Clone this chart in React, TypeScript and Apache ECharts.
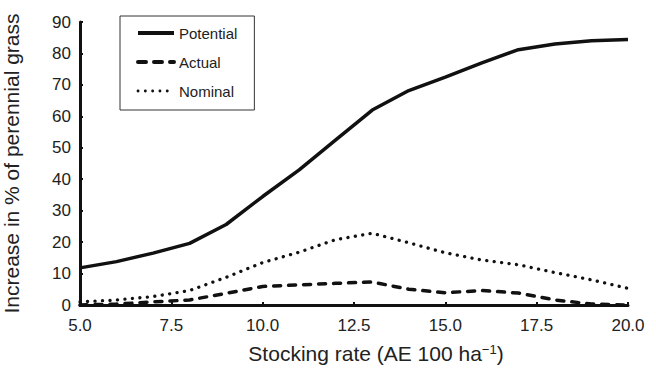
import React, { useEffect, useRef } from "react";
import * as echarts from "echarts";

const stockingRate = [5, 6, 7, 8, 9, 10, 11, 12, 13, 14, 15, 16, 17, 18, 19, 20];
const potential = [11.8, 13.8, 16.5, 19.6, 25.6, 34.5, 43, 52.5, 62, 68.2, 72.5, 77, 81.2, 83, 84, 84.4];
const actual = [0, 0.3, 1, 1.6, 3.7, 5.9, 6.4, 6.9, 7.3, 5, 3.9, 4.6, 3.8, 1.6, 0.3, 0];
const nominal = [1, 1.6, 2.7, 4.6, 8.8, 13.5, 16.8, 20.8, 22.8, 19.8, 16.6, 14.3, 12.8, 10.3, 8, 5.3];
const seriesNames = ["Potential", "Actual", "Nominal"];

const FONT = "'Liberation Sans', Arial, Helvetica, sans-serif";

export default function App() {
  const ref = useRef<HTMLDivElement>(null);
  useEffect(() => {
    if (!ref.current) return;
    const chart = echarts.init(ref.current, undefined, { renderer: "svg" });
    const zip = (ys: number[]) => stockingRate.map((x, i) => [x, ys[i]]);
    const legendLines: Record<string, any> = {
      Potential: { width: 4, type: "solid", color: "#111" },
      Actual: { width: 4, type: [8, 8], cap: "round", color: "#111" },
      Nominal: { width: 2.8, type: [0.1, 7.2], cap: "round", color: "#111" },
    };
    chart.setOption({
      animation: false,
      backgroundColor: "#fff",
      textStyle: { fontFamily: FONT },
      grid: { left: 80, right: 28, top: 22, bottom: 63, containLabel: false, outerBoundsMode: "none" },
      legend: {
        data: seriesNames.map((n) => ({ name: n, lineStyle: legendLines[n] })),
        orient: "vertical",
        left: 120,
        top: 16,
        padding: [8, 17, 10, 16],
        itemWidth: 36,
        itemHeight: 14,
        itemGap: 11,
        borderColor: "#333",
        borderWidth: 1,
        borderRadius: 0,
        itemStyle: { opacity: 0 },
        textStyle: { fontSize: 15, color: "#222", fontFamily: FONT, lineHeight: 18 },
      },
      xAxis: {
        type: "value",
        min: 5,
        max: 20,
        interval: 2.5,
        name: "Stocking rate (AE 100 ha{sup|\u22121})",
        nameLocation: "middle",
        nameGap: 38,
        nameTextStyle: {
          fontSize: 21,
          color: "#222",
          fontFamily: FONT,
          padding: [0, 0, 0, 44],
          rich: { sup: { fontSize: 13, verticalAlign: "top", padding: [0, 0, 8, 0], color: "#222", fontFamily: FONT } },
        },
        axisLine: { show: true, onZero: false, lineStyle: { color: "#111", width: 3 } },
        axisTick: { show: true, inside: true, length: 3, lineStyle: { color: "#111", width: 2 } },
        axisLabel: { fontSize: 17, color: "#222", margin: 12, formatter: (v: number) => v.toFixed(1) },
        splitLine: { show: false },
      },
      yAxis: {
        type: "value",
        min: 0,
        max: 90,
        interval: 10,
        name: "Increase in % of perennial grass",
        nameLocation: "middle",
        nameGap: 58,
        nameTextStyle: { fontSize: 21, color: "#222", fontFamily: FONT },
        axisLine: { show: true, lineStyle: { color: "#111", width: 3 } },
        axisTick: { show: true, inside: true, length: 3, lineStyle: { color: "#111", width: 2 } },
        axisLabel: { fontSize: 17, color: "#222", margin: 9 },
        splitLine: { show: false },
      },
      series: [
        {
          name: "Potential",
          type: "line",
          data: zip(potential),
          symbol: "none",
          color: "#111",
          lineStyle: { color: "#111", width: 3.5, type: "solid" },
        },
        {
          name: "Actual",
          type: "line",
          data: zip(actual),
          symbol: "none",
          color: "#111",
          lineStyle: { color: "#111", width: 3.5, type: [7, 8], cap: "round" },
        },
        {
          name: "Nominal",
          type: "line",
          data: zip(nominal),
          symbol: "none",
          color: "#111",
          lineStyle: { color: "#111", width: 3.3, type: [0.1, 7.4], cap: "round" },
        },
      ],
    });
    return () => chart.dispose();
  }, []);
  return (
    <div
      ref={ref}
      style={{ position: "fixed", left: 0, top: 0, width: 656, height: 368 }}
    />
  );
}
